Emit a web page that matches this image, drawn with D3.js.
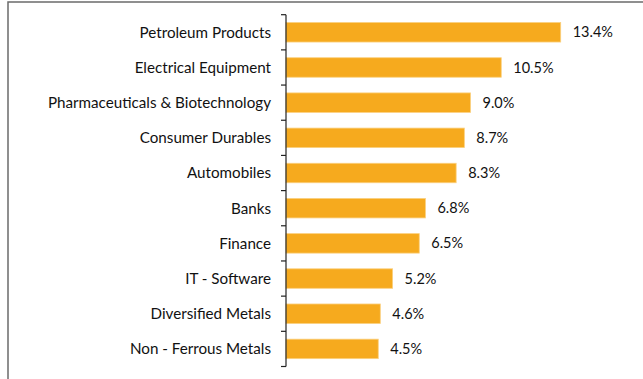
<!DOCTYPE html>
<html>
<head>
<meta charset="utf-8">
<script src="https://cdn.jsdelivr.net/npm/d3@7"></script>
<style>
  html, body { margin: 0; padding: 0; background: #fff; }
  svg { display: block; }
  text { font-family: Lato, "Open Sans", sans-serif; fill: #111; }
</style>
</head>
<body>
<svg id="chart" width="643" height="379"></svg>
<script>
// Sector weights (% of portfolio)
const sectors = [
  "Petroleum Products",
  "Electrical Equipment",
  "Pharmaceuticals & Biotechnology",
  "Consumer Durables",
  "Automobiles",
  "Banks",
  "Finance",
  "IT - Software",
  "Diversified Metals",
  "Non - Ferrous Metals"
];
const weights = [13.4, 10.5, 9.0, 8.7, 8.3, 6.8, 6.5, 5.2, 4.6, 4.5];

const svg = d3.select("#chart");

// outer frame
svg.append("rect")
  .attr("x", 8).attr("y", 2)
  .attr("width", 700).attr("height", 420)
  .attr("fill", "none")
  .attr("stroke", "#6b6b6b")
  .attr("stroke-width", 1.5);

const axisX = 286;
const y = d3.scaleBand()
  .domain(sectors)
  .range([14.7, 366.5])
  .paddingInner(0.446)
  .paddingOuter(0.223);

const x = d3.scaleLinear()
  .domain([0, 10])
  .range([axisX, axisX + 205]);

// bars
svg.append("g").selectAll("rect")
  .data(sectors)
  .join("rect")
  .attr("x", x(0))
  .attr("y", d => y(d))
  .attr("width", (d, i) => x(weights[i]) - x(0))
  .attr("height", y.bandwidth())
  .attr("fill", "#F6AA1E")
  .attr("stroke", "#FBD07F")
  .attr("stroke-width", 0.8);

// category axis with ticks between categories
const step = y.step();
const half = step * y.paddingInner() / 2;
const bounds = sectors.map(d => y(d) - half).concat([y(sectors[sectors.length - 1]) + y.bandwidth() + half]);
const ax = svg.append("g").attr("stroke", "#222").attr("stroke-width", 1.2);
ax.append("line")
  .attr("x1", axisX).attr("x2", axisX)
  .attr("y1", bounds[0]).attr("y2", bounds[bounds.length - 1]);
ax.selectAll("line.tick")
  .data(bounds)
  .join("line")
  .attr("class", "tick")
  .attr("x1", axisX - 5).attr("x2", axisX)
  .attr("y1", d => d).attr("y2", d => d);

// category labels
svg.append("g").selectAll("text")
  .data(sectors)
  .join("text")
  .attr("x", axisX - 15)
  .attr("y", d => y(d) + y.bandwidth() / 2)
  .attr("dy", "0.35em")
  .attr("text-anchor", "end")
  .attr("font-size", 15.2)
  .text(d => d);

// value labels
svg.append("g").selectAll("text")
  .data(sectors)
  .join("text")
  .attr("x", (d, i) => x(weights[i]) + 12)
  .attr("y", d => y(d) + y.bandwidth() / 2)
  .attr("dy", "0.35em")
  .attr("font-size", 14.5)
  .text((d, i) => weights[i].toFixed(1) + "%");
</script>
</body>
</html>
